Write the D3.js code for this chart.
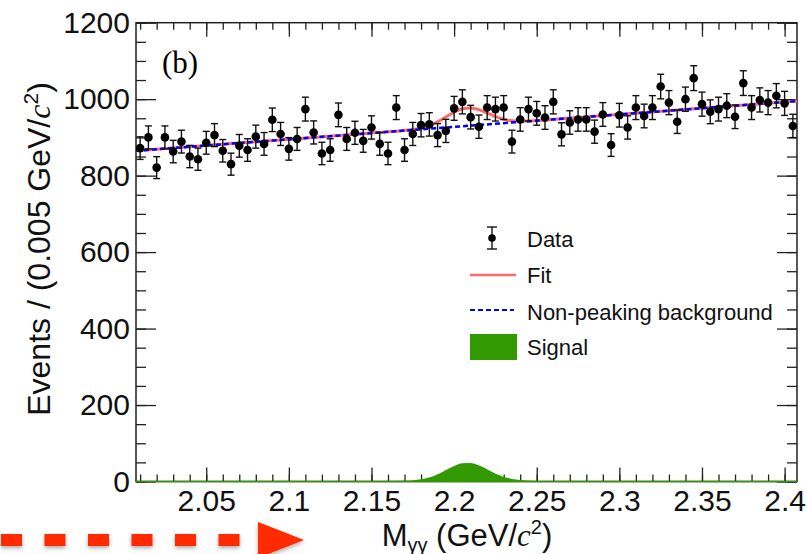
<!DOCTYPE html>
<html>
<head>
<meta charset="utf-8">
<script src="https://cdn.jsdelivr.net/npm/d3@7"></script>
<style>
body { margin: 0; background: #fff; }
svg text { font-family: "Liberation Sans", Arial, Helvetica, sans-serif; }
</style>
</head>
<body>
<div id="chart"></div>
<script>
// histogram: 80 bins of 0.005 GeV starting at 2.0075
var binStart = 2.0075, binWidth = 0.005;
var counts = [872, 900, 821, 900, 863, 889, 850, 843, 886, 906,
              865, 830, 878, 867, 902, 883, 946, 909, 870, 896,
              974, 913, 858, 867, 959, 896, 912, 891, 926, 883,
              858, 978, 867, 909, 932, 934, 906, 917, 976, 993,
              953, 928, 978, 974, 978, 889, 947, 974, 963, 952,
              993, 908, 939, 947, 947, 915, 960, 880, 958, 926,
              978, 956, 978, 1033, 991, 941, 1000, 1055, 987, 967,
              974, 983, 954, 1042, 978, 998, 991, 1009, 989, 930];

// fit components
var bgMass = [2.0075, 2.4075];
var bgEvents = [865, 995];
var sigMass = [2.0075, 2.16, 2.165, 2.17, 2.175, 2.18, 2.185, 2.19, 2.195, 2.2, 2.205,
               2.21, 2.215, 2.22, 2.225, 2.23, 2.235, 2.24, 2.245, 2.25, 2.255, 2.4075];
var sigEvents = [0, 0, 0.1, 0.5, 1.4, 3.8, 8.7, 16.7, 27.4, 38.3, 45.7,
                 46.4, 40.2, 29.7, 18.6, 10.0, 4.6, 1.8, 0.6, 0.2, 0, 0];

var xMajor = [2.05, 2.1, 2.15, 2.2, 2.25, 2.3, 2.35, 2.4];
var xLabels = ["2.05", "2.1", "2.15", "2.2", "2.25", "2.3", "2.35", "2.4"];
var yMajor = [0, 200, 400, 600, 800, 1000, 1200];
var yLabels = ["0", "200", "400", "600", "800", "1000", "1200"];
var legendNames = ["Data", "Fit", "Non-peaking background", "Signal"];

var width = 807, height = 554;
var pLeft = 136, pRight = 797, pTop = 22.7, pBottom = 481.5;

var svg = d3.select("#chart")
  .append("svg")
    .attr("width", width)
    .attr("height", height);

var x = d3.scaleLinear()
    .domain([binStart, binStart + counts.length * binWidth])
    .range([pLeft, pRight]);
var y = d3.scaleLinear().domain([0, 1200]).range([pBottom, pTop]);
var bg = d3.scaleLinear().domain(bgMass).range(bgEvents);

var xMinor = d3.range(2.01, 2.405, 0.01);
var yMinor = d3.range(0, 1201, 50);

// ticks on all four sides, pointing inwards
function ticks(axis, tx, ty) {
  var g = svg.append("g")
    .attr("transform", "translate(" + tx + "," + ty + ")")
    .call(axis);
  g.select(".domain").remove();
  g.attr("color", "#222").attr("font-size", 30)
   .attr("font-family", "'Liberation Sans', Arial, sans-serif");
  g.selectAll("line").attr("stroke-width", 1.3);
  g.selectAll("text").attr("fill", "#111");
  return g;
}
var none = function() { return ""; };
ticks(d3.axisBottom(x).tickValues(xMinor).tickSize(-7).tickFormat(none), 0, pBottom);
ticks(d3.axisBottom(x).tickValues(xMajor).tickSize(-14).tickPadding(8)
  .tickFormat(function(d, i) { return xLabels[i]; }), 0, pBottom);
ticks(d3.axisTop(x).tickValues(xMinor).tickSize(-7).tickFormat(none), 0, pTop);
ticks(d3.axisTop(x).tickValues(xMajor).tickSize(-14).tickFormat(none), 0, pTop);
ticks(d3.axisLeft(y).tickValues(yMinor).tickSize(-10).tickFormat(none), pLeft, 0);
ticks(d3.axisLeft(y).tickValues(yMajor).tickSize(-20).tickPadding(6)
  .tickFormat(function(d, i) { return yLabels[i]; }), pLeft, 0);
ticks(d3.axisRight(y).tickValues(yMinor).tickSize(-10).tickFormat(none), pRight, 0);
ticks(d3.axisRight(y).tickValues(yMajor).tickSize(-20).tickFormat(none), pRight, 0);

svg.append("rect")
  .attr("x", pLeft).attr("y", pTop)
  .attr("width", pRight - pLeft).attr("height", pBottom - pTop)
  .attr("fill", "none").attr("stroke", "#222").attr("stroke-width", 1.5);

// signal
var sigPts = sigMass.map(function(m, i) { return [m, sigEvents[i]]; });
svg.append("path")
  .datum(sigPts)
  .attr("d", d3.area()
    .x(function(d) { return x(d[0]); })
    .y0(y(0))
    .y1(function(d) { return y(d[1]); })
    .curve(d3.curveMonotoneX))
  .attr("fill", "#339900")
  .attr("stroke", "#339900")
  .attr("stroke-width", 1.5);

// fit = background + signal
var fitPts = sigMass.map(function(m, i) { return [m, bg(m) + sigEvents[i]]; });
svg.append("path")
  .datum(fitPts)
  .attr("d", d3.line()
    .x(function(d) { return x(d[0]); })
    .y(function(d) { return y(d[1]); })
    .curve(d3.curveMonotoneX))
  .attr("fill", "none")
  .attr("stroke", "#ff6b6b")
  .attr("stroke-width", 3);

svg.append("path")
  .datum(bgMass.map(function(m, i) { return [m, bgEvents[i]]; }))
  .attr("d", d3.line()
    .x(function(d) { return x(d[0]); })
    .y(function(d) { return y(d[1]); }))
  .attr("fill", "none")
  .attr("stroke", "#0000ff")
  .attr("stroke-width", 2.5)
  .attr("stroke-dasharray", "5,3");

// data points with poisson errors
var pts = svg.append("g")
  .selectAll("g")
  .data(counts)
  .enter()
  .append("g")
    .attr("transform", function(d, i) {
      return "translate(" + x(binStart + (i + 0.5) * binWidth) + ",0)";
    });
pts.append("line")
  .attr("y1", function(d) { return y(d - Math.sqrt(d)); })
  .attr("y2", function(d) { return y(d + Math.sqrt(d)); })
  .attr("stroke", "#111").attr("stroke-width", 1.4);
pts.append("line")
  .attr("x1", -3.5).attr("x2", 3.5)
  .attr("y1", function(d) { return y(d + Math.sqrt(d)); })
  .attr("y2", function(d) { return y(d + Math.sqrt(d)); })
  .attr("stroke", "#111").attr("stroke-width", 1.4);
pts.append("line")
  .attr("x1", -3.5).attr("x2", 3.5)
  .attr("y1", function(d) { return y(d - Math.sqrt(d)); })
  .attr("y2", function(d) { return y(d - Math.sqrt(d)); })
  .attr("stroke", "#111").attr("stroke-width", 1.4);
pts.append("circle")
  .attr("cy", function(d) { return y(d); })
  .attr("r", 4.3)
  .attr("fill", "#000");

// panel label
svg.append("text")
  .attr("x", 162).attr("y", 73)
  .attr("font-size", 31)
  .style("font-family", "'Liberation Serif', 'Times New Roman', serif")
  .text("(b)");

// legend
var lg = svg.append("g");
lg.append("line").attr("x1", 492).attr("x2", 492).attr("y1", 227).attr("y2", 249)
  .attr("stroke", "#111").attr("stroke-width", 1.4);
lg.append("line").attr("x1", 487).attr("x2", 497).attr("y1", 227).attr("y2", 227)
  .attr("stroke", "#111").attr("stroke-width", 1.4);
lg.append("line").attr("x1", 487).attr("x2", 497).attr("y1", 249).attr("y2", 249)
  .attr("stroke", "#111").attr("stroke-width", 1.4);
lg.append("circle").attr("cx", 492).attr("cy", 238).attr("r", 3.8).attr("fill", "#000");
lg.append("line").attr("x1", 470).attr("x2", 516).attr("y1", 275).attr("y2", 275)
  .attr("stroke", "#ff6b6b").attr("stroke-width", 2.5);
lg.append("line").attr("x1", 470).attr("x2", 514).attr("y1", 310).attr("y2", 310)
  .attr("stroke", "#0000ff").attr("stroke-width", 2).attr("stroke-dasharray", "5,3");
lg.append("rect").attr("x", 470).attr("y", 334).attr("width", 47).attr("height", 26)
  .attr("fill", "#339900");
lg.selectAll("text")
  .data(legendNames)
  .enter()
  .append("text")
    .attr("x", 527)
    .attr("y", function(d, i) { return [247, 283, 320, 355][i]; })
    .attr("font-size", 22)
    .attr("fill", "#111")
    .text(function(d) { return d; });

// axis titles
var yt = svg.append("text")
  .attr("transform", "translate(50,249) rotate(-90)")
  .attr("text-anchor", "middle")
  .attr("font-size", 32)
  .attr("fill", "#111");
yt.append("tspan").text("Events / (0.005 GeV/");
yt.append("tspan").style("font-family", "'Liberation Serif', serif").style("font-style", "italic").text("c");
yt.append("tspan").attr("font-size", 21).attr("dy", -12).text("2");
yt.append("tspan").attr("font-size", 32).attr("dy", 12).text(")");

var xt = svg.append("text")
  .attr("x", 467).attr("y", 546)
  .attr("text-anchor", "middle")
  .attr("font-size", 31)
  .attr("fill", "#111");
xt.append("tspan").text("M");
xt.append("tspan").attr("font-size", 20).attr("dy", 6).text("γγ");
xt.append("tspan").attr("font-size", 31).attr("dy", -6).text(" (GeV/");
xt.append("tspan").style("font-family", "'Liberation Serif', serif").style("font-style", "italic").text("c");
xt.append("tspan").attr("font-size", 20).attr("dy", -12).text("2");
xt.append("tspan").attr("font-size", 31).attr("dy", 12).text(")");

// red arrow annotation
var defs = svg.append("defs");
var f = defs.append("filter").attr("id", "shadow")
  .attr("x", "-20%").attr("y", "-50%").attr("width", "140%").attr("height", "200%");
f.append("feDropShadow").attr("dx", 0).attr("dy", 2)
  .attr("stdDeviation", 2).attr("flood-color", "#000").attr("flood-opacity", 0.35);
var ar = svg.append("g").attr("filter", "url(#shadow)");
ar.append("line")
  .attr("x1", 1).attr("x2", 240).attr("y1", 540).attr("y2", 540)
  .attr("stroke", "#ff2a00").attr("stroke-width", 12)
  .attr("stroke-dasharray", "21,22.5");
ar.append("path")
  .attr("d", "M258,522L304,540L258,558Z")
  .attr("fill", "#ff2a00");
</script>
</body>
</html>
